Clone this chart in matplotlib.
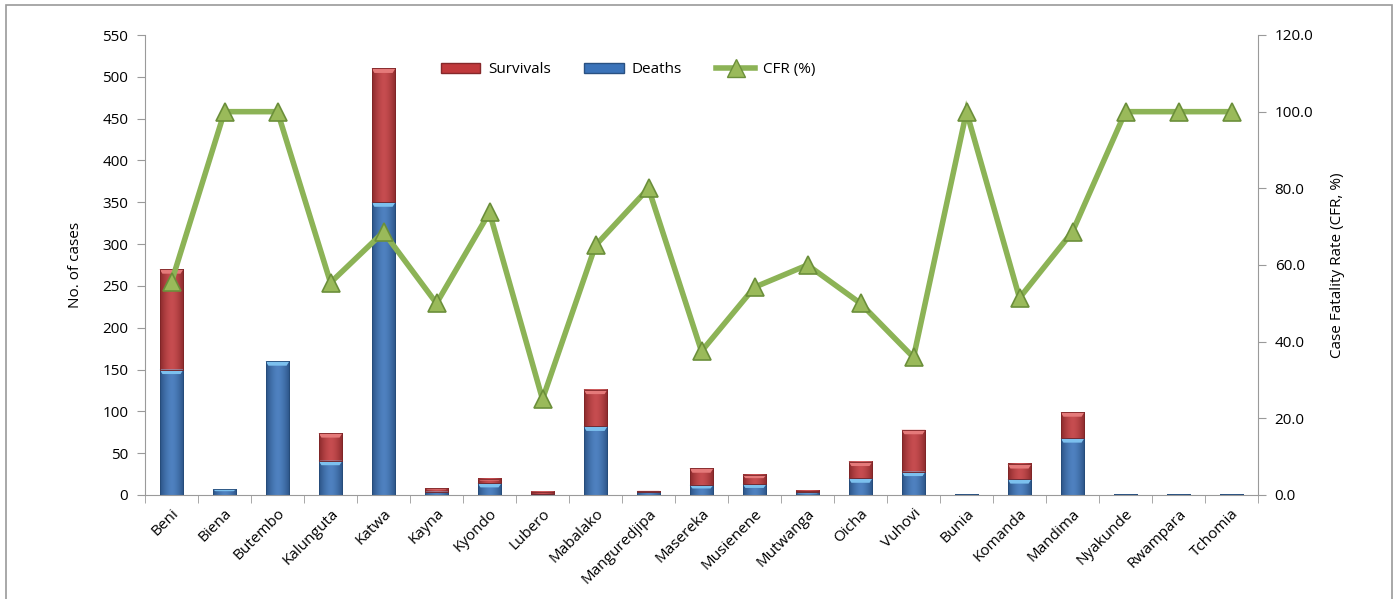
import matplotlib
matplotlib.use("Agg")
import matplotlib.pyplot as plt
import numpy as np
from matplotlib.patches import Patch, Rectangle, Polygon
from matplotlib.lines import Line2D
from matplotlib.colors import to_rgb

plt.rcParams['font.family'] = ['Open Sans', 'DejaVu Sans']

# Health zones
zones = ["Beni", "Biena", "Butembo", "Kalunguta", "Katwa", "Kayna", "Kyondo",
         "Lubero", "Mabalako", "Manguredjipa", "Masereka", "Musienene",
         "Mutwanga", "Oicha", "Vuhovi", "Bunia", "Komanda", "Mandima",
         "Nyakunde", "Rwampara", "Tchomia"]

deaths = [150, 7, 160, 41, 350, 4, 14, 1, 82, 4, 12, 13, 3, 20, 28, 1, 19, 68, 1, 1, 1]
survivals = [120, 0, 0, 33, 160, 4, 5, 3, 44, 1, 20, 11, 2, 20, 50, 0, 18, 31, 0, 0, 0]
cfr = [55.6, 100.0, 100.0, 55.4, 68.6, 50.0, 73.7, 25.0, 65.1, 80.0, 37.5, 54.2,
       60.0, 50.0, 35.9, 100.0, 51.4, 68.7, 100.0, 100.0, 100.0]

left_ticks = list(range(0, 551, 50))
right_ticks = [0, 20, 40, 60, 80, 100, 120]

W, H, DPI = 1400, 599, 100
fig = plt.figure(figsize=(W / DPI, H / DPI), dpi=DPI)
fig.patch.set_facecolor("white")

# outer frame
fig.add_artist(Rectangle((6 / W, -0.02), (1392 - 6) / W, 1 - 5 / H + 0.02,
                         transform=fig.transFigure, fill=False,
                         edgecolor="#9a9a9a", linewidth=1.2))

ax = fig.add_axes([145 / W, 1 - 495 / H, (1258 - 145) / W, (495 - 35) / H])
ax2 = ax.twinx()

x = np.arange(len(zones))
bw = 0.45

blue = "#3b73b9"
red = "#c0393c"


def shade(c, f):
    r = np.array(to_rgb(c))
    if f >= 0:
        return tuple(r + (1 - r) * f)
    return tuple(r * (1 + f))


def fancy_bars(bars, base, top_light):
    px_per_unit = (495 - 35) / 550.0
    bevel = 4.5 / px_per_unit
    n = 64
    t = np.linspace(0, 1, n)
    prof = 1 - np.abs(2 * t - 1) ** 1.6
    c0 = np.array(shade(base, -0.28))
    c1 = np.array(shade(base, 0.10))
    cols = c0[None, :] + (c1 - c0)[None, :] * prof[:, None]
    img = cols[None, :, :]
    for b in bars:
        bx, by, bwid, bh = b.get_x(), b.get_y(), b.get_width(), b.get_height()
        if bh <= 0:
            continue
        b.set_facecolor("none")
        ax.imshow(img, extent=[bx, bx + bwid, by, by + bh], aspect="auto",
                  interpolation="bilinear", zorder=2, origin="lower")
        hb = min(bevel, bh * 0.35)
        inset = bwid * 0.12
        poly = Polygon([[bx, by + bh], [bx + bwid, by + bh],
                        [bx + bwid - inset, by + bh - hb], [bx + inset, by + bh - hb]],
                       closed=True, facecolor=top_light, edgecolor="none", zorder=3)
        ax.add_patch(poly)
        ax.add_patch(Rectangle((bx, by), bwid, bh, fill=False,
                               edgecolor=shade(base, -0.35), linewidth=0.6, zorder=3))


bars_d = ax.bar(x, deaths, width=bw, color=blue, zorder=2)
bars_s = ax.bar(x, survivals, width=bw, bottom=deaths, color=red, zorder=2)
fancy_bars(bars_d, blue, "#7cc0ee")
fancy_bars(bars_s, red, "#e57a7a")

ax.set_xlim(-0.5, len(zones) - 0.5)
ax.set_ylim(0, 550)
ax.set_yticks(left_ticks)
ax.set_yticklabels([str(v) for v in left_ticks])
ax.set_xticks(x)
ax.set_xticklabels(zones, rotation=45, ha="right", rotation_mode="anchor")
ax.set_xticks(np.arange(-0.5, len(zones), 1), minor=True)
ax.tick_params(axis="x", which="major", length=0, pad=8, labelsize=11)
ax.tick_params(axis="x", which="minor", length=6, color="#9a9a9a", direction="out")
ax.tick_params(axis="y", length=6, color="#9a9a9a", labelsize=11, pad=6)
ax.set_ylabel("No. of cases", fontsize=11, labelpad=14)

for s in ["top", "right"]:
    ax.spines[s].set_visible(False)
for s in ["left", "bottom"]:
    ax.spines[s].set_color("#9a9a9a")

line_c = "#8cb356"
ax2.plot(x, cfr, color=line_c, linewidth=4, marker="^", markersize=13,
         markerfacecolor="#9aba5a", markeredgecolor="#6b8f3a", markeredgewidth=1.2,
         zorder=5, solid_joinstyle="miter")
ax2.set_ylim(0, 120)
ax2.set_yticks(right_ticks)
ax2.set_yticklabels([f"{v:.1f}" for v in right_ticks])
ax2.tick_params(axis="y", length=6, color="#9a9a9a", labelsize=11, pad=6)
ax2.set_ylabel("Case Fatality Rate (CFR, %)", fontsize=11, labelpad=12)
for s in ["top", "left", "bottom"]:
    ax2.spines[s].set_visible(False)
ax2.spines["right"].set_color("#9a9a9a")

handles = [
    Patch(facecolor=red, edgecolor=shade(red, -0.3)),
    Patch(facecolor=blue, edgecolor=shade(blue, -0.3)),
    Line2D([0], [0], color=line_c, linewidth=4, marker="^", markersize=13,
           markerfacecolor="#9aba5a", markeredgecolor="#6b8f3a"),
]
leg = ax2.legend(handles, ["Survivals", "Deaths", "CFR (%)"], loc="center",
                 bbox_to_anchor=(0.434, 0.924), ncol=3, frameon=False,
                 fontsize=11, handlelength=2.6, handleheight=0.6,
                 columnspacing=2.2, handletextpad=0.5)

fig.savefig("out.png", dpi=DPI, facecolor="white")
